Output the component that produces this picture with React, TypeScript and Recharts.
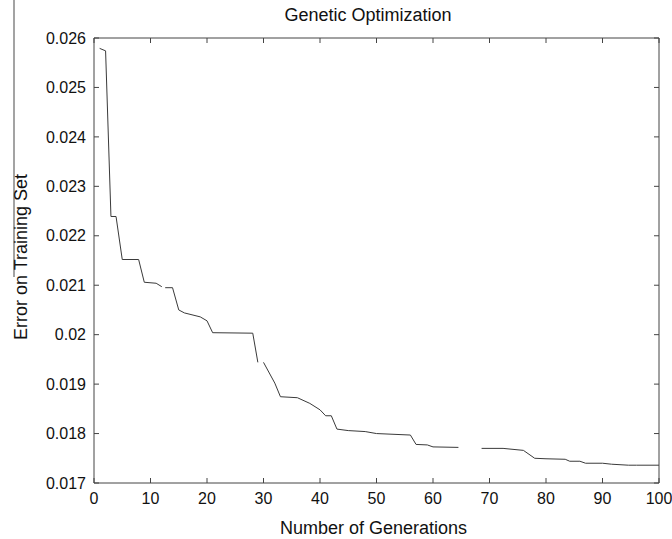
import React from 'react';
import { Line, LineChart, XAxis, YAxis } from 'recharts';

// generation index, training-set error (null = gap in the trace)
const generations = [
  1, 2.05, 3, 3.9, 5, 7.9, 8.9, 11, 12, 12.3, 12.6, 13.9, 15, 16, 18.8, 20, 21, 28.1, 29, 29.5,
  30, 32, 33, 36, 38.2, 40, 41, 42, 43, 45, 48, 50, 56, 57, 59, 60, 64.5, 66, 68.6, 72.4, 76,
  78, 80, 83.4, 84.2, 86, 87, 90, 91.6, 94.6, 96, 100,
];
const errors = [
  0.02579, 0.02574, 0.02239, 0.02239, 0.02152, 0.02152, 0.02106, 0.02104, 0.02097, null, 0.02095,
  0.02095, 0.0205, 0.02044, 0.02036, 0.02028, 0.02004, 0.02003, 0.01944, null, 0.01944, 0.01902,
  0.018745, 0.018725, 0.01861, 0.01848, 0.01836, 0.01836, 0.01809, 0.01806, 0.01804, 0.018,
  0.01797, 0.01778, 0.01777, 0.01773, 0.01772, null, 0.0177, 0.0177, 0.01766, 0.0175, 0.01749,
  0.01748, 0.01744, 0.01744, 0.0174, 0.0174, 0.01738, 0.01736, 0.01736, 0.01736,
];
const xTicks = [0, 10, 20, 30, 40, 50, 60, 70, 80, 90, 100];
const yTicks = [0.017, 0.018, 0.019, 0.02, 0.021, 0.022, 0.023, 0.024, 0.025, 0.026];

const data = generations.map((g, i) => ({ gen: g, err: errors[i] }));

const axisColor = '#444';
const font = '"Liberation Sans", Arial, sans-serif';
const tickStyle = { fill: '#111', fontSize: 16, fontFamily: font };
const tickLine = { stroke: axisColor, strokeWidth: 1 };
const fmt = (v: number) => String(parseFloat(v.toFixed(3)));

// tick marks only, no label (top / right frame)
const NoLabel = () => <g />;

export default function App() {
  return (
    <div style={{ position: 'relative', width: 672, height: 539, fontFamily: font }}>
      <style>{'body { margin: 0; } .recharts-surface { overflow: visible; }'}</style>
      <LineChart
        width={672}
        height={539}
        data={data}
        margin={{ top: 37, right: 12, left: 0, bottom: 0 }}
      >
        <XAxis
          dataKey="gen"
          type="number"
          domain={[0, 100]}
          ticks={xTicks}
          height={56}
          tick={tickStyle}
          tickLine={tickLine}
          tickSize={-5}
          tickMargin={15}
          stroke={axisColor}
          interval={0}
        />
        <XAxis
          xAxisId="top"
          dataKey="gen"
          orientation="top"
          type="number"
          domain={[0, 100]}
          ticks={xTicks}
          height={1}
          tick={<NoLabel />}
          tickLine={tickLine}
          tickSize={-5}
          stroke={axisColor}
          interval={0}
        />
        <YAxis
          type="number"
          domain={[0.017, 0.026]}
          ticks={yTicks}
          width={94}
          tick={tickStyle}
          tickLine={tickLine}
          tickFormatter={fmt}
          tickSize={-5}
          tickMargin={13}
          stroke={axisColor}
          interval={0}
        />
        <YAxis
          yAxisId="right"
          orientation="right"
          type="number"
          domain={[0.017, 0.026]}
          ticks={yTicks}
          width={1}
          tick={<NoLabel />}
          tickLine={tickLine}
          tickSize={-5}
          stroke={axisColor}
          interval={0}
        />
        <Line
          type="linear"
          dataKey="err"
          stroke="#3a3a3a"
          strokeWidth={1}
          dot={false}
          connectNulls={false}
          isAnimationActive={false}
        />
        <Line
          xAxisId="top"
          yAxisId="right"
          type="linear"
          dataKey="err"
          stroke="none"
          dot={false}
          activeDot={false}
          isAnimationActive={false}
        />
      </LineChart>
      <svg
        width={672}
        height={539}
        style={{ position: 'absolute', left: 0, top: 0, pointerEvents: 'none' }}
      >
        <line x1={14} y1={0} x2={14} y2={277} stroke="#666" strokeWidth={1.2} />
        <text x={368} y={21} textAnchor="middle" fontSize={18} fill="#111" fontFamily={font}>
          Genetic Optimization
        </text>
        <text x={373.5} y={534} textAnchor="middle" fontSize={18} fill="#111" fontFamily={font}>
          Number of Generations
        </text>
        <text
          transform="translate(26.5,257) rotate(-90)"
          textAnchor="middle"
          fontSize={18}
          fill="#111"
          fontFamily={font}
        >
          Error on Training Set
        </text>
      </svg>
    </div>
  );
}
